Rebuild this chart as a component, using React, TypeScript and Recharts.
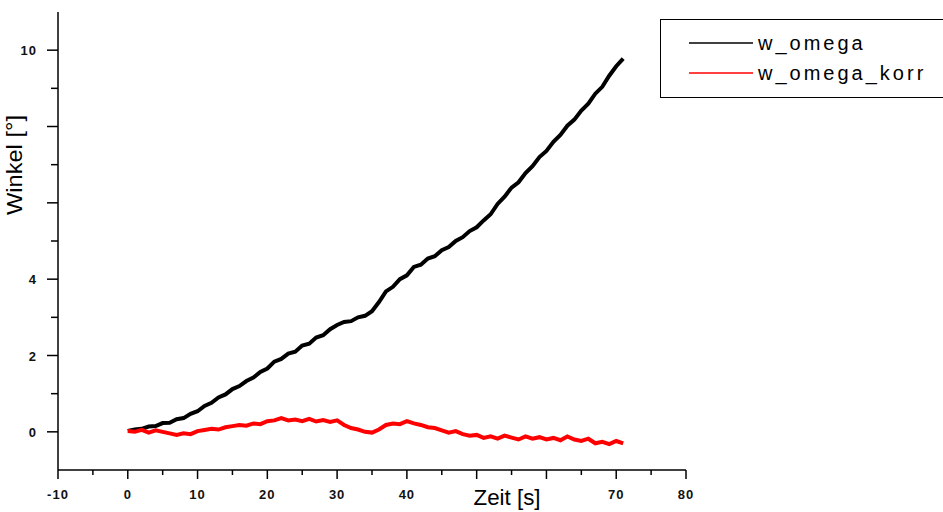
import React from 'react';
import { LineChart, Line, XAxis, YAxis, Legend, Label } from 'recharts';

// Time [s], sampled once per second
const times = [
  0, 1, 2, 3, 4, 5, 6, 7, 8, 9, 10, 11, 12, 13, 14, 15, 16, 17, 18, 19,
  20, 21, 22, 23, 24, 25, 26, 27, 28, 29, 30, 31, 32, 33, 34, 35, 36, 37, 38, 39,
  40, 41, 42, 43, 44, 45, 46, 47, 48, 49, 50, 51, 52, 53, 54, 55, 56, 57, 58, 59,
  60, 61, 62, 63, 64, 65, 66, 67, 68, 69, 70, 71,
];

const wOmega = [
  0.02, 0.06, 0.08, 0.14, 0.15, 0.23, 0.24, 0.33, 0.36, 0.47, 0.54, 0.68, 0.76, 0.9, 0.98, 1.12, 1.2, 1.33, 1.42, 1.57,
  1.66, 1.84, 1.91, 2.05, 2.1, 2.26, 2.31, 2.47, 2.53, 2.69, 2.8, 2.88, 2.9, 3.0, 3.04, 3.16, 3.4, 3.68, 3.8, 4.0,
  4.1, 4.32, 4.38, 4.54, 4.6, 4.76, 4.84, 5.0, 5.1, 5.26, 5.36, 5.54, 5.7, 5.97, 6.16, 6.4, 6.54, 6.78, 6.96, 7.2,
  7.36, 7.6, 7.78, 8.02, 8.18, 8.42, 8.6, 8.86, 9.04, 9.33, 9.58, 9.78,
];

const wOmegaKorr = [
  0.02, 0.0, 0.05, -0.02, 0.04, 0.0, -0.04, -0.08, -0.04, -0.06, 0.02, 0.05, 0.08, 0.06, 0.12, 0.15, 0.18, 0.16, 0.22, 0.2,
  0.28, 0.3, 0.36, 0.3, 0.32, 0.28, 0.34, 0.27, 0.31, 0.26, 0.3, 0.18, 0.1, 0.06, 0.0, -0.02, 0.06, 0.18, 0.22, 0.2,
  0.28, 0.22, 0.18, 0.12, 0.1, 0.04, -0.02, 0.02, -0.06, -0.1, -0.08, -0.16, -0.12, -0.18, -0.1, -0.15, -0.2, -0.12, -0.18, -0.14,
  -0.2, -0.16, -0.22, -0.12, -0.2, -0.24, -0.18, -0.3, -0.26, -0.32, -0.24, -0.3,
];

const seriesNames = ['w_omega', 'w_omega_korr'];
const seriesColors = ['#000000', '#ff0000'];

const xMajorTicks = [-10, 0, 10, 20, 30, 40, 50, 60, 70, 80];
const xMinorTicks = [-5, 5, 15, 25, 35, 45, 55, 65, 75];
const xLabeledTicks = [-10, 0, 10, 20, 30, 40, 70, 80];

const yMajorTicks = [0, 2, 4, 6, 8, 10];
const yMinorTicks = [1, 3, 5, 7, 9];
const yLabeledTicks = [0, 2, 4, 10];

const xTitle = 'Zeit [s]';
const yTitle = 'Winkel [°]';

const data = times.map((t, i) => ({ t, w: wOmega[i], k: wOmegaKorr[i] }));

const FONT = '"Liberation Sans", Arial, sans-serif';

const XTick = (props: any) => {
  const { x, y, payload } = props;
  const v = payload.value;
  const major = xMajorTicks.includes(v);
  return (
    <g>
      <line x1={x} x2={x} y1={y} y2={y + (major ? 9 : 5)} stroke="#000" strokeWidth={1.5} />
      {xLabeledTicks.includes(v) && (
        <text x={x} y={y + 29} textAnchor="middle" fontFamily={FONT} fontSize={13} fontWeight="bold" fill="#111" letterSpacing={1}>
          {v}
        </text>
      )}
    </g>
  );
};

const YTick = (props: any) => {
  const { x, y, payload } = props;
  const v = payload.value;
  const major = yMajorTicks.includes(v);
  return (
    <g>
      <line x1={x} x2={x - (major ? 11 : 7)} y1={y} y2={y} stroke="#000" strokeWidth={1.5} />
      {yLabeledTicks.includes(v) && (
        <text x={x - 21} y={y + 5} textAnchor="end" fontFamily={FONT} fontSize={13} fontWeight="bold" fill="#111" letterSpacing={1}>
          {v}
        </text>
      )}
    </g>
  );
};

const LegendBox = (props: any) => {
  const payload = props.payload || [];
  return (
    <div
      style={{
        width: 285,
        height: 79,
        border: '1.5px solid #000',
        boxSizing: 'border-box',
        background: '#fff',
      }}
    >
      <svg width={283} height={77}>
        {payload.map((p: any, i: number) => (
          <g key={i}>
            <line x1={28} x2={92} y1={23 + i * 30} y2={23 + i * 30} stroke={p.color} strokeWidth={1.5} />
            <text x={97} y={30 + i * 30} fontFamily={FONT} fontSize={20} fill="#000" letterSpacing={3}>
              {p.value}
            </text>
          </g>
        ))}
      </svg>
    </div>
  );
};

export default function App() {
  return (
    <div style={{ position: 'absolute', left: 0, top: 0, width: 943, height: 512, background: '#fff' }}>
      <LineChart width={943} height={512} data={data} margin={{ top: 12, right: 257, bottom: 0, left: 0 }}>
        <XAxis
          dataKey="t"
          type="number"
          domain={[-10, 80]}
          ticks={[...xMajorTicks, ...xMinorTicks].sort((a, b) => a - b)}
          interval={0}
          height={42}
          tickSize={0}
          tickMargin={0}
          tickLine={false}
          tick={<XTick />}
          axisLine={{ stroke: '#000', strokeWidth: 1.5 }}
          allowDataOverflow
        >
          <Label
            content={() => (
              <text
                x={507}
                y={505}
                textAnchor="middle"
                fontFamily={FONT}
                fontSize={22}
                fill="#000"
                textLength={67}
                lengthAdjust="spacingAndGlyphs"
              >
                {xTitle}
              </text>
            )}
          />
        </XAxis>
        <YAxis
          type="number"
          domain={[-1, 11]}
          ticks={[...yMajorTicks, ...yMinorTicks].sort((a, b) => a - b)}
          interval={0}
          width={58}
          tickSize={0}
          tickMargin={0}
          tickLine={false}
          tick={<YTick />}
          axisLine={{ stroke: '#000', strokeWidth: 1.5 }}
          allowDataOverflow
        >
          <Label
            content={() => (
              <text
                x={22}
                y={165}
                textAnchor="middle"
                fontFamily={FONT}
                fontSize={22}
                fill="#000"
                transform="rotate(-90 22 165)"
                textLength={100}
                lengthAdjust="spacingAndGlyphs"
              >
                {yTitle}
              </text>
            )}
          />
        </YAxis>
        <Legend
          layout="vertical"
          align="center"
          verticalAlign="middle"
          content={<LegendBox />}
          wrapperStyle={{ position: 'absolute', left: 660, top: 19, width: 285, height: 79 }}
        />
        <Line
          type="linear"
          dataKey="w"
          name={seriesNames[0]}
          stroke={seriesColors[0]}
          strokeWidth={4}
          dot={false}
          isAnimationActive={false}
        />
        <Line
          type="linear"
          dataKey="k"
          name={seriesNames[1]}
          stroke={seriesColors[1]}
          strokeWidth={4}
          dot={false}
          isAnimationActive={false}
        />
      </LineChart>
    </div>
  );
}
